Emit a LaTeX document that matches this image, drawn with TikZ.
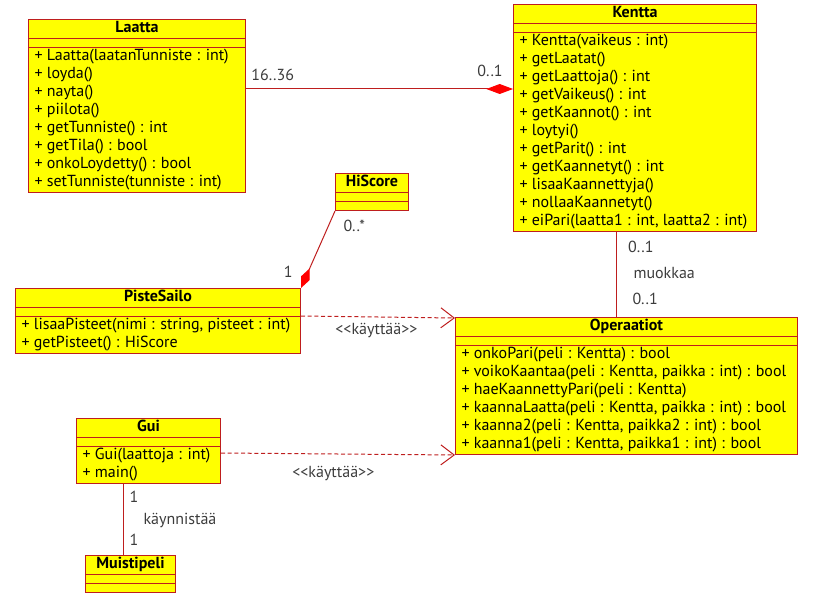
\documentclass[tikz,border=0pt]{standalone}
\usepackage{fontspec}
\setmainfont{PT Sans}
\usetikzlibrary{shapes.multipart,arrows.meta}
\definecolor{umlred}{RGB}{190,30,30}
\definecolor{umlyellow}{RGB}{255,255,0}
\definecolor{labelgray}{RGB}{60,60,60}

\begin{document}
\begin{tikzpicture}[x=0.75pt,y=-0.75pt] % pixel grid, y grows downwards
\tikzstyle{umlclass} = [rectangle split, rectangle split parts=3, rectangle split part align={center,left,left}, align=left, draw=umlred, fill=umlyellow, line width=0.75pt, inner xsep=4.5pt, inner ysep=0pt, anchor=north west, font=\fontsize{12}{13.5}\selectfont] % class box
\tikzstyle{assoc} = [umlred, line width=0.75pt] % association
\tikzstyle{uses} = [umlred, line width=0.75pt, dash pattern=on 3pt off 2pt, -{Straight Barb[length=10pt,width=15pt]}] % dependency
\tikzstyle{mult} = [labelgray, inner sep=0pt, font=\fontsize{12}{13.5}\selectfont] % multiplicity and role texts

\useasboundingbox (0,0) rectangle (830,595);

% classes
\node[umlclass, minimum width=162.75pt] (Laatta) at (28,19) {\textbf{Laatta}\strut
	\nodepart{two}\rule{0pt}{6pt}
	\nodepart{three}\strut + Laatta(laatanTunniste : int)\\ + loyda()\\ + nayta()\\ + piilota()\\ + getTunniste() : int\\ + getTila() : bool\\ + onkoLoydetty() : bool\\ + setTunniste(tunniste : int)\strut};
\node[umlclass, minimum width=182.25pt] (Kentta) at (513,4) {\textbf{Kentta}\strut
	\nodepart{two}\rule{0pt}{6pt}
	\nodepart{three}\strut + Kentta(vaikeus : int)\\ + getLaatat()\\ + getLaattoja() : int\\ + getVaikeus() : int\\ + getKaannot() : int\\ + loytyi()\\ + getParit() : int\\ + getKaannetyt() : int\\ + lisaaKaannettyja()\\ + nollaaKaannetyt()\\ + eiPari(laatta1 : int, laatta2 : int)\strut};
\node[umlclass, minimum width=54.75pt] (HiScore) at (335,173) {\textbf{HiScore}\strut
	\nodepart{two}\rule{0pt}{6pt}
	\nodepart{three}\rule{0pt}{6pt}};
\node[umlclass, minimum width=213.75pt] (PisteSailo) at (15,288) {\textbf{PisteSailo}\strut
	\nodepart{two}\rule{0pt}{6pt}
	\nodepart{three}\strut + lisaaPisteet(nimi : string, pisteet : int)\\ + getPisteet() : HiScore\strut};
\node[umlclass, minimum width=256.5pt] (Operaatiot) at (455,317) {\textbf{Operaatiot}\strut
	\nodepart{two}\rule{0pt}{6pt}
	\nodepart{three}\strut + onkoPari(peli : Kentta) : bool\\ + voikoKaantaa(peli : Kentta, paikka : int) : bool\\ + haeKaannettyPari(peli : Kentta)\\ + kaannaLaatta(peli : Kentta, paikka : int) : bool\\ + kaanna2(peli : Kentta, paikka2 : int) : bool\\ + kaanna1(peli : Kentta, paikka1 : int) : bool\strut};
\node[umlclass, minimum width=108pt] (Gui) at (76,418) {\textbf{Gui}\strut
	\nodepart{two}\rule{0pt}{6pt}
	\nodepart{three}\strut + Gui(laattoja : int)\\ + main()\strut};
\node[umlclass, minimum width=67.5pt] (Muistipeli) at (85,555) {\textbf{Muistipeli}\strut
	\nodepart{two}\rule{0pt}{6pt}
	\nodepart{three}\rule{0pt}{6pt}};

% associations
\path (Laatta.north east) ++(0,70) coordinate (LK);
\draw[assoc, -{Diamond[length=20pt,width=7.5pt,color=red]}] (LK) -- node[mult, pos=0.1, above=6pt] {16..36} node[mult, pos=0.914, above=8.5pt] {0..1} (LK -| Kentta.west);
\draw[assoc, -{Diamond[length=16pt,width=7pt,color=red]}] (HiScore.south west) -- node[mult, at start, anchor=north west, xshift=6pt, yshift=-6.75pt] {0..*} node[mult, at end, anchor=south east, xshift=-6pt, yshift=7.5pt] {1} (PisteSailo.north east);
\path (Kentta.south west) ++(103,0) coordinate (KO);
\draw[assoc] (KO) -- node[mult, pos=0.18, right=8.8pt] {0..1} node[mult, pos=0.48, right=12.75pt] {muokkaa} node[mult, pos=0.79, right=12pt] {0..1} (KO |- Operaatiot.north);
\path (Gui.south west) ++(47,0) coordinate (GM);
\draw[assoc] (GM) -- node[mult, pos=0.18, right=4.5pt] {1} node[mult, pos=0.51, right=15pt] {käynnistää} node[mult, pos=0.78, right=4.5pt] {1} (GM |- Muistipeli.north);

% dependencies
\draw[uses] ([yshift=-21pt]PisteSailo.north east) -- node[mult, pos=0.49, below=4.5pt] {<{}<käyttää>{}>} ([yshift=-0.75pt]Operaatiot.north west);
\draw[uses] ([yshift=-26.25pt]Gui.north east) -- node[mult, pos=0.48, below=9pt] {<{}<käyttää>{}>} (Operaatiot.south west);
\end{tikzpicture}
\end{document}
